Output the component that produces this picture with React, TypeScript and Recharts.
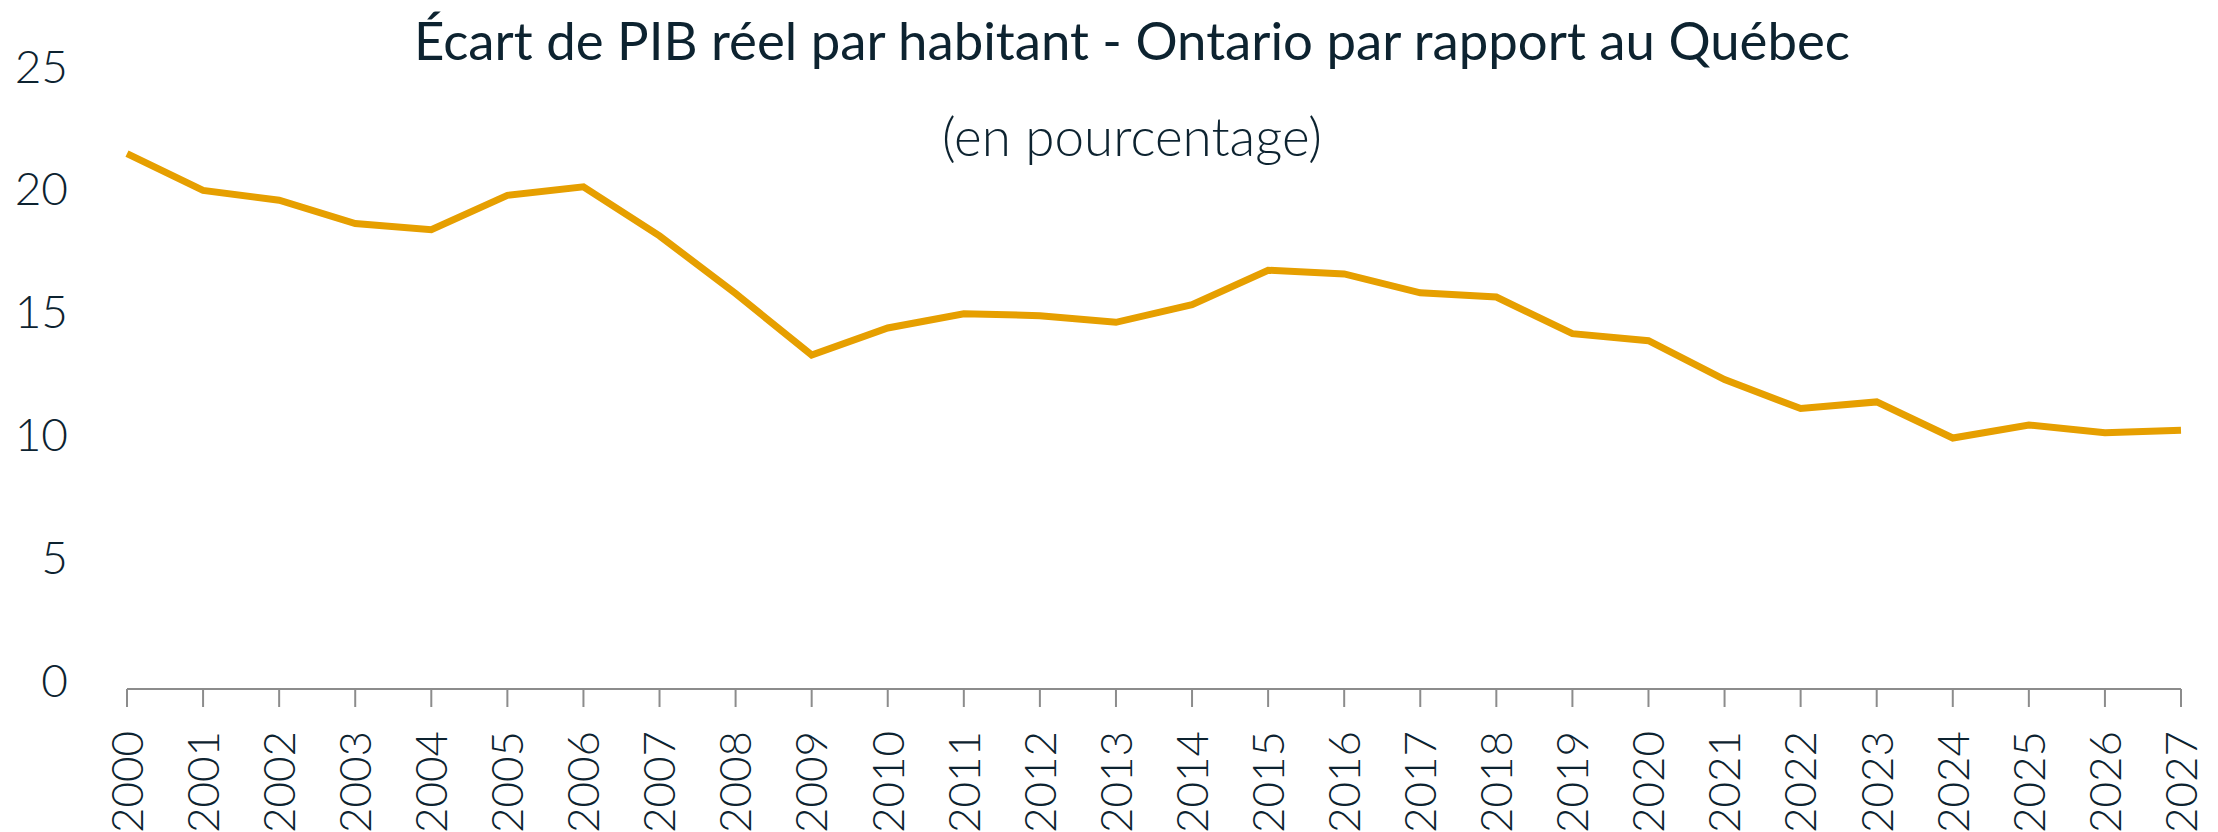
import { LineChart, Line, XAxis, YAxis } from "recharts"

const years = [
  "2000", "2001", "2002", "2003", "2004", "2005", "2006", "2007", "2008", "2009",
  "2010", "2011", "2012", "2013", "2014", "2015", "2016", "2017", "2018", "2019",
  "2020", "2021", "2022", "2023", "2024", "2025", "2026", "2027",
]

const gapValues = [
  21.8, 20.3, 19.9, 18.95, 18.7, 20.1, 20.45, 18.45, 16.1, 13.6,
  14.7, 15.28, 15.2, 14.93, 15.65, 17.05, 16.9, 16.13, 15.96, 14.47,
  14.18, 12.6, 11.42, 11.69, 10.22, 10.75, 10.43, 10.54,
]

const yTicks = [0, 5, 10, 15, 20, 25]

const title = "Écart de PIB réel par habitant - Ontario par rapport au Québec"
const subtitle = "(en pourcentage)"

const data = years.map((year, i) => ({ year, gap: gapValues[i] }))

const W = 2218
const H = 832
const textColor = "#0d2330"
const lineColor = "#E69F00"
const axisColor = "#8c8c8c"
const font = "Lato, 'Open Sans', sans-serif"

function YTick({ x, y, payload }: any) {
  return (
    <text x={x} y={y - 9} dy="0.36em" textAnchor="end" fill={textColor}
      fontSize={46} fontWeight={300} fontFamily={font}>
      {payload.value}
    </text>
  )
}

function XTick({ x, y, payload }: any) {
  return (
    <text x={x} y={y} dy="0.36em" textAnchor="end" fill={textColor}
      fontSize={44} fontWeight={300} fontFamily={font}
      transform={`rotate(-90, ${x}, ${y})`}>
      {payload.value}
    </text>
  )
}

export default function App() {
  return (
    <div style={{ position: "absolute", left: 0, top: 0, width: W, height: H, background: "#fff" }}>
      <LineChart width={W} height={H} data={data}
        margin={{ top: 75, right: 37, left: 0, bottom: 0 }}>
        <XAxis
          dataKey="year"
          height={143}
          interval={0}
          stroke={axisColor}
          strokeWidth={2}
          tickSize={18}
          tickMargin={24}
          tick={<XTick />}
        />
        <YAxis
          domain={[0, 25]}
          ticks={yTicks}
          width={127}
          axisLine={false}
          tickLine={false}
          tickSize={0}
          tickMargin={59}
          tick={<YTick />}
        />
        <Line
          type="linear"
          dataKey="gap"
          stroke={lineColor}
          strokeWidth={7}
          dot={false}
          isAnimationActive={false}
        />
      </LineChart>
      <svg width={W} height={H} style={{ position: "absolute", left: 0, top: 0, pointerEvents: "none" }}>
        <text x={1132} y={60} textAnchor="middle" fill={textColor} fontSize={52} fontFamily={font}
          textLength={1436} lengthAdjust="spacingAndGlyphs">
          {title}
        </text>
        <text x={1132} y={156} textAnchor="middle" fill={textColor} fontSize={53} fontWeight={300} fontFamily={font}>
          {subtitle}
        </text>
      </svg>
    </div>
  )
}
